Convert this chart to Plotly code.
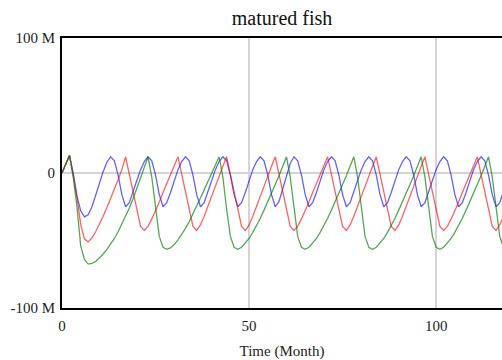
import plotly.graph_objects as go

# Time axis (months)
time_months = list(range(0, 121))

# Series values (millions)
blue_series = [
    0, 6, 13, 0, -17, -28, -32.5, -31, -25, -16.5, -7.5, 1, 8, 12,
    9, -1.5, -16, -25, -22, -14.5, -5.5, 2.5, 8.5, 12,
    9, -1.5, -16, -25, -22, -14.5, -5.5, 2.5, 8.5, 12,
    9, -1.5, -16, -25, -22, -14.5, -5.5, 2.5, 8.5, 12,
    9, -1.5, -16, -25, -22, -14.5, -5.5, 2.5, 8.5, 12,
    9, -1.5, -16, -25, -21, -11.5, -1.5, 7, 12,
    9, -1.5, -16, -25, -22, -14.5, -5.5, 2.5, 8.5, 12,
    9, -1.5, -16, -25, -22, -14.5, -5.5, 2.5, 8.5, 12,
    9, -1.5, -16, -25, -22, -14.5, -5.5, 2.5, 8.5, 12,
    9, -1.5, -16, -25, -22, -14.5, -5.5, 2.5, 8.5, 12,
    9, -1.5, -16, -25, -22, -14.5, -5.5, 2.5, 8.5, 12,
    9, -1.5, -16, -25, -22, -14.5, -5.5, 2.5,
]

red_series = [
    0, 6, 13, -2, -18, -38, -49, -51, -48, -43.5, -38, -32, -25.5, -19, -12, -5, 2.5, 12,
    -1, -14, -27, -39.5, -42.5, -39.5, -34, -28, -21.5, -14.5, -7.5, -0.5, 6, 12,
    -1, -14, -27, -39.5, -42.5, -38.5, -32, -25, -17.5, -10, -2.5, 5, 12,
    -1, -14, -27, -39.5, -42.5, -38.5, -32, -25, -17.5, -10, -2.5, 5, 12,
    -1, -14, -27, -39.5, -42.5, -39.5, -34, -28, -21.5, -14.5, -7.5, -0.5, 6, 12,
    -1, -14, -27, -39.5, -42.5, -38.5, -32, -25, -17.5, -10, -2.5, 5, 12,
    -1, -14, -27, -39.5, -42.5, -38.5, -32, -25, -17.5, -10, -2.5, 5, 12,
    -1, -14, -27, -39.5, -42.5, -39.5, -34, -28, -21.5, -14.5, -7.5, -0.5, 6, 12,
    -1, -14, -27, -39.5, -42.5, -38.5, -32, -25, -17.5,
]

green_series = [
    0, 6, 13, -3, -25, -54, -64, -67.5, -67, -65.5, -63, -60, -56.5, -52.5, -48.5,
    -43.5, -38, -32, -26, -19, -11.5, -3.5, 4.5, 12,
    -3, -27, -47, -55, -56.5, -55.5, -53, -49.5, -45.5, -41, -36, -30.5, -24.5,
    -18.5, -12.5, -6, 0, 6, 12,
    -3, -27, -47, -55, -56.5, -55, -52, -48.5, -44, -39, -33.5, -27.5, -21.5, -15, -8.5, -2, 5, 12,
    -3, -27, -47, -55, -56.5, -55, -52, -48.5, -44, -39, -33.5, -27.5, -21.5, -15, -8.5, -2, 5, 12,
    -3, -27, -47, -55, -56.5, -55, -52, -48.5, -44, -39, -33.5, -27.5, -21.5, -15, -8.5, -2, 5, 12,
    -3, -27, -47, -55, -56.5, -55, -52, -48.5, -44, -39, -33.5, -27.5, -21.5, -15, -8.5, -2, 5, 12,
    -3, -27, -47, -55, -56.5, -55,
]

y_tick_vals = [-100, 0, 100]
y_tick_text = ["-100 M", "0", "100 M"]
x_tick_vals = [0, 50, 100]

FONT = "Liberation Serif"

fig = go.Figure()
for vals, col in [
    (blue_series, "rgba(0,0,255,0.62)"),
    (red_series, "rgba(255,0,0,0.62)"),
    (green_series, "rgba(0,128,0,0.68)"),
]:
    fig.add_trace(go.Scatter(
        x=time_months, y=vals, mode="lines",
        line=dict(color=col, width=1.3), hoverinfo="skip",
    ))

fig.update_layout(
    width=502, height=360,
    margin=dict(l=62, r=0, t=38, b=52),
    plot_bgcolor="white", paper_bgcolor="white",
    showlegend=False,
    font=dict(family=FONT, size=15, color="#222"),
    title=dict(text="matured fish", x=0.5, xref="paper", xanchor="center",
               y=1 - 18 / 360, yref="container", yanchor="middle",
               font=dict(family=FONT, size=20, color="#111")),
)
fig.update_xaxes(
    range=[0, 117.6], tickvals=x_tick_vals,
    showgrid=True, gridcolor="#d4d4d4", gridwidth=1.5,
    showline=True, linecolor="black", linewidth=2, mirror=True,
    ticks="outside", ticklen=3, tickcolor="rgba(0,0,0,0)",
    zeroline=False,
    title=dict(text="Time (Month)", standoff=14, font=dict(family=FONT, size=15, color="#222")),
)
fig.update_yaxes(
    range=[-100, 100], tickvals=y_tick_vals, ticktext=y_tick_text,
    showgrid=True, gridcolor="#d4d4d4", gridwidth=1.5,
    showline=True, linecolor="black", linewidth=2,
    ticks="outside", ticklen=2, tickcolor="rgba(0,0,0,0)",
    zeroline=False,
)

fig.write_html("out.html")
